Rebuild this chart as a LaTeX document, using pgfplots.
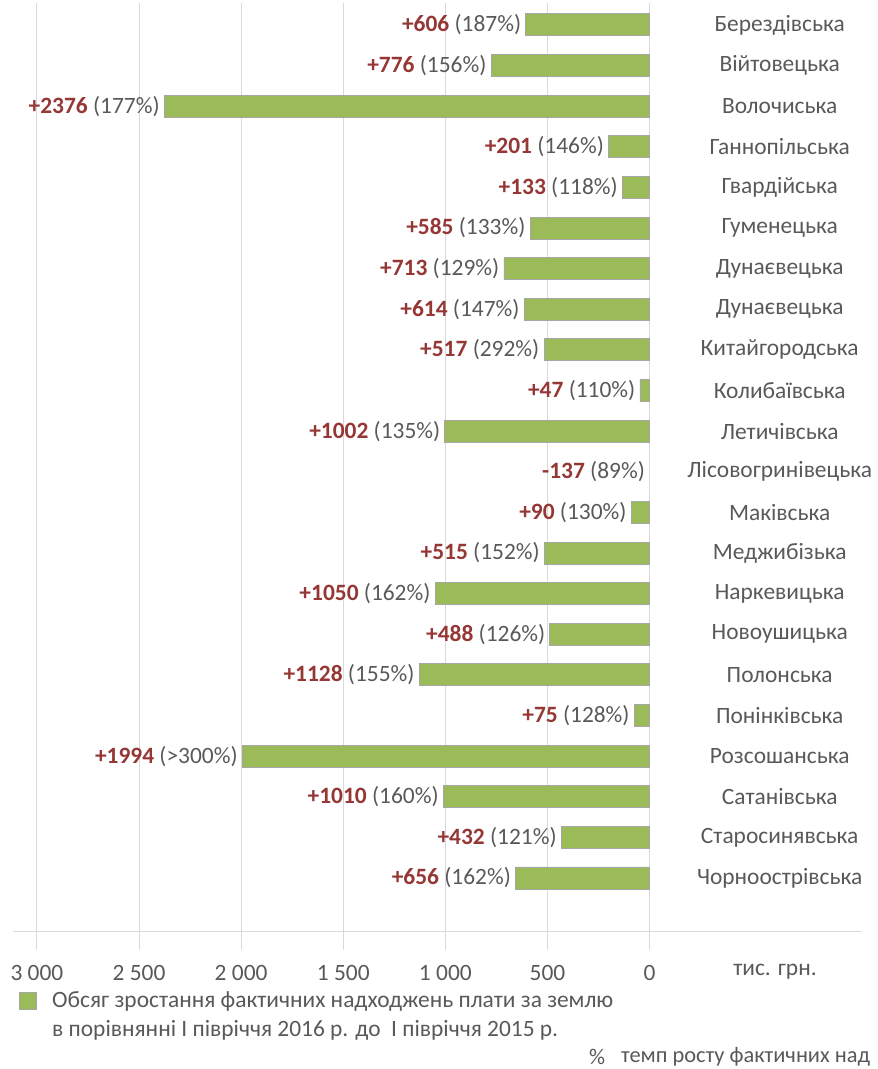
\documentclass[border=0pt]{standalone}
\usepackage{pgfplots}
\pgfplotsset{compat=1.18}
\usepackage{pgfplotstable}
\usepackage{fontspec}
\setmainfont{Carlito}
\definecolor{barg}{HTML}{9BBB59}
\definecolor{barline}{HTML}{A6A6A6}
\definecolor{vred}{HTML}{953735}
\definecolor{tgray}{HTML}{595959}
\definecolor{gridc}{HTML}{D9D9D9}
\newcommand{\lf}{\fontsize{23.5}{28}\selectfont}
\def\mklab#1/#2\relax{\textcolor{vred}{\bfseries #1}\ \textcolor{tgray}{(#2\%)}}
\pgfplotstableread[col sep=comma]{
row,val,lab,name
0,606,+606/187,Берездівська
1,776,+776/156,Війтовецька
2,2376,+2376/177,Волочиська
3,201,+201/146,Ганнопільська
4,133,+133/118,Гвардійська
5,585,+585/133,Гуменецька
6,713,+713/129,Дунаєвецька
7,614,+614/147,Дунаєвецька
8,517,+517/292,Китайгородська
9,47,+47/110,Колибаївська
10,1002,+1002/135,Летичівська
11,-137,-137/89,Лісовогринівецька
12,90,+90/130,Маківська
13,515,+515/152,Меджибізька
14,1050,+1050/162,Наркевицька
15,488,+488/126,Новоушицька
16,1128,+1128/155,Полонська
17,75,+75/128,Понінківська
18,1994,+1994/>300,Розсошанська
19,1010,+1010/160,Сатанівська
20,432,+432/121,Старосинявська
21,656,+656/162,Чорноострівська
}\data
\begin{document}
\begin{tikzpicture}
\path[use as bounding box] (-13bp,-137bp) rectangle (865bp,932bp);
\begin{axis}[
  at={(0,0)}, anchor=south west,
  scale only axis, width=849bp, height=929bp,
  x dir=reverse, xmin=-1040, xmax=3117,
  ymin=-1.33, ymax=21.54,
  axis y line=none, axis x line*=bottom,
  axis line style={draw=gridc, line width=1bp},
  xtick={0,500,...,3000},
  xticklabels={0,500,1 000,1 500,2 000,2 500,3 000},
  xmajorgrids, major grid style={draw=gridc, line width=0.9bp},
  xtick align=outside, major tick length=18bp,
  xtick style={draw=gridc, line width=0.9bp},
  xticklabel style={font=\lf, text=tgray, yshift=-12bp},
  clip=false,
]
\addplot[xbar, bar width=22bp, fill=barg, draw=barline, line width=0.9bp,
  x filter/.expression={x<0 ? nan : x}]
  table[x=val, y expr=21-\thisrow{row}] {\data};
\addplot[draw=none, mark=none, point meta=explicit symbolic,
  nodes near coords={\expandafter\mklab\pgfplotspointmeta\relax},
  every node near coord/.style={anchor=east, font=\lf, inner sep=4.5bp}]
  table[x expr={max(\thisrow{val},0)}, y expr=21-\thisrow{row}, meta=lab] {\data};
\addplot[draw=none, mark=none, point meta=explicit symbolic,
  nodes near coords,
  every node near coord/.style={anchor=center, font=\lf, text=tgray}]
  table[x expr=-637, y expr=21-\thisrow{row}, meta=name] {\data};
\end{axis}
\node[anchor=center, font=\lf, text=tgray] at (762bp,-40bp) {тис. грн.};
\draw[fill=barg, draw=barline, line width=0.6bp] (6bp,-60bp) rectangle (23bp,-77bp);
\node[anchor=west, font=\lf, text=tgray, inner sep=0pt] at (39bp,-69bp) {Обсяг зростання фактичних надходжень плати за землю};
\node[anchor=west, font=\lf, text=tgray, inner sep=0pt] at (39bp,-98bp) {в порівнянні І півріччя 2016 р. до\ \ І півріччя 2015 р.};
\node[anchor=west, font=\fontsize{22.5}{27}\selectfont, text=tgray, inner sep=0pt] at (576bp,-125bp) {\%};
\node[anchor=west, font=\fontsize{22.5}{27}\selectfont, text=tgray, inner sep=0pt] at (608bp,-125bp) {темп росту фактичних над};
\end{tikzpicture}
\end{document}
